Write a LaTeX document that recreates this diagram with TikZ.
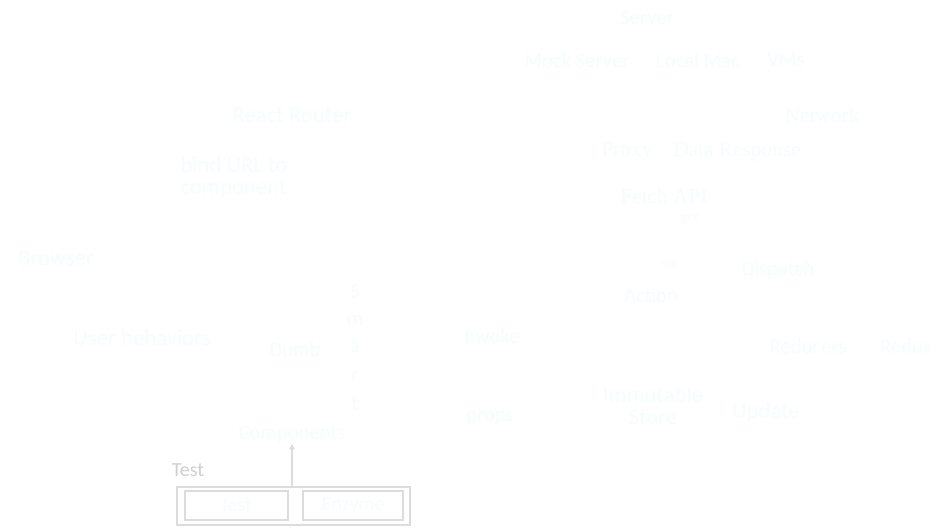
\documentclass[tikz,border=0pt]{standalone}
\usepackage{fontspec}
\setmainfont{Carlito}
\newfontfamily\serifnet{Liberation Serif}
\usetikzlibrary{arrows.meta}
\definecolor{faint}{HTML}{F7FCFE}
\definecolor{boxgray}{HTML}{DCDCDC}
\definecolor{testgray}{HTML}{CFCFCF}
\begin{document}
\begin{tikzpicture}[x=0.75pt,y=-0.75pt,
  lbl/.style={text=faint,font=\fontsize{15.5}{18}\selectfont,inner sep=0pt},
  big/.style={text=faint,font=\fontsize{17}{16.5}\selectfont,inner sep=0pt},
  slbl/.style={text=faint,font=\serifnet\fontsize{16}{18}\selectfont,inner sep=0pt},
  tiny/.style={text=faint,font=\fontsize{10}{11}\selectfont,inner sep=0pt},
  tbox/.style={draw=boxgray,line width=1.5pt,minimum height=0.75*29pt,text=faint,font=\fontsize{15}{17}\selectfont}]
\useasboundingbox[fill=white] (0,0) rectangle (945,530);
\node[lbl] (server) at (647,18) {Server};
\node[lbl] (mock) at (577,60) {Mock Server};
\node[lbl] (mac) at (698,60) {Local Mac};
\node[lbl] (vms) at (786,60) {VMs};
\node[big] (router) at (292,115) {React Router};
\node[big,align=left] (bind) at (234,177) {bind URL to\\component};
\node[slbl] (network) at (822,115) {Network};
\node[slbl] (proxy) at (627,152) {Proxy};
\node[slbl] (data) at (737,152) {Data Response};
\node[slbl] (fetch) at (664,196) {Fetch API};
\node[tiny] (get) at (690,218) {get};
\node[big] (browser) at (56,258) {Browser};
\node[tiny] (set) at (670,264) {set};
\node[lbl] (dispatch) at (778,270) {Dispatch};
\node[lbl] (action) at (651,295) {Action};
\node[lbl] (s1) at (355,292) {S};
\node[lbl] (s2) at (355,320) {m};
\node[lbl] (s3) at (355,348) {a};
\node[lbl] (s4) at (355,376) {r};
\node[lbl] (s5) at (355,404) {t};
\node[big] (user) at (142,338) {User behaviors};
\node[lbl] (dumb) at (295,349) {Dumb};
\node[lbl] (invoke) at (492,336) {Invoke};
\node[lbl] (reducers) at (808,346) {Reducers};
\node[lbl] (redux) at (906,346) {Redux};
\node[lbl] (props) at (490,418) {props};
\node[big,align=center] (store) at (653,406) {Immutable\\Store};
\node[big] (update) at (766,412) {Update};
\node[lbl] (comp) at (292,434) {Components};
\node[text=testgray,font=\fontsize{15}{17}\selectfont,inner sep=0pt] (testlbl) at (188,470) {Test};
\node[tbox,minimum width=0.75*103pt] (jest) at (236.5,505.5) {Jest};
\node[tbox,minimum width=0.75*100pt] (enzyme) at (353,505.5) {Enzyme};
\node[draw=boxgray,line width=1.5pt,minimum width=0.75*233pt,minimum height=0.75*38pt] (test) at (293.5,506) {};
\draw[boxgray,line width=1.2pt,-{Triangle[length=4pt,width=4pt]}] (test.north -| comp.south) -- ([yshift=-1pt]comp.south);
\end{tikzpicture}
\end{document}
